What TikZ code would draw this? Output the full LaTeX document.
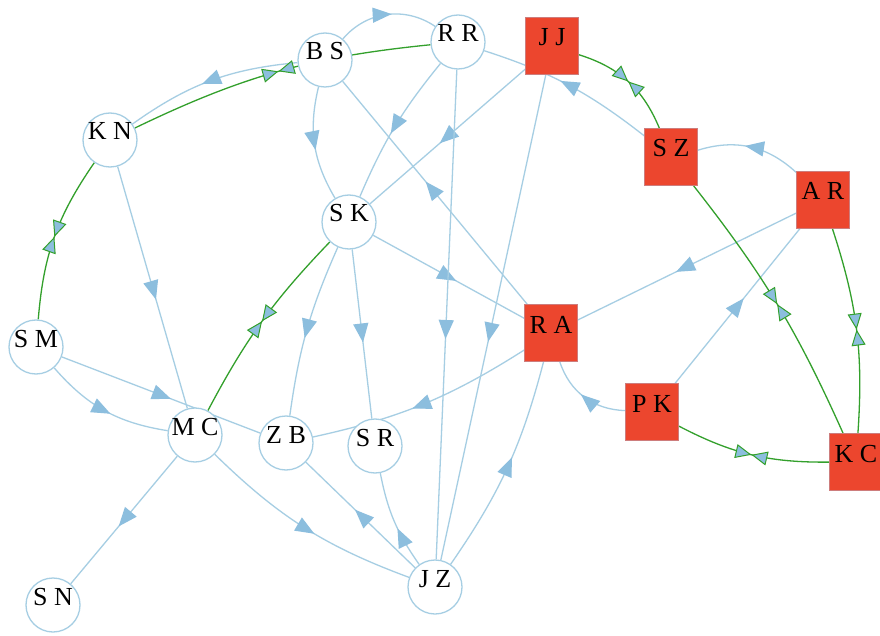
\documentclass[tikz,border=0pt]{standalone}
\usepackage{fontspec}
\setmainfont{Liberation Serif}
\usetikzlibrary{arrows.meta,decorations.markings}
\definecolor{lineblue}{RGB}{166,206,227}
\definecolor{arrowblue}{RGB}{140,190,222}
\definecolor{edgegreen}{RGB}{51,160,44}
\definecolor{sqred}{RGB}{236,70,46}
\definecolor{sqborder}{RGB}{205,125,125}
\pgfdeclarelayer{paper}
\pgfdeclarelayer{edges}
\pgfsetlayers{paper,edges,main}
\newcommand\nodefont{\fontsize{26}{26}\selectfont}
\begin{document}
\begin{tikzpicture}[x=1pt,y=1pt,
  circ/.style={circle, draw=lineblue, fill=white, line width=1.3pt, minimum size=54pt, inner sep=0pt, font=\nodefont, text height=10pt, text depth=10pt},
  sq/.style={rectangle, draw=sqborder, fill=sqred, line width=0.6pt, minimum width=53pt, minimum height=57pt, inner sep=0pt, font=\nodefont, text height=10pt, text depth=10pt},
  bl/.style={draw=lineblue, line width=1.3pt, postaction={decorate}, decoration={markings, mark=at position #1 with {\arrow{Triangle[length=19pt,width=15pt,color=arrowblue]}}}},
  bl/.default=0.55,
  gr/.style={draw=edgegreen, line width=1.3pt, postaction={decorate}, decoration={markings,
    mark=at position 0.5 with {\arrow{Triangle[length=16pt,width=14pt,color=edgegreen,fill=arrowblue,line width=1pt]}},
    mark=at position 0.5 with {\arrowreversed{Triangle[length=16pt,width=14pt,color=edgegreen,fill=arrowblue,line width=1pt]}}}}
]
\begin{pgfonlayer}{paper}
\fill[white] (0,0) rectangle (880,-636);
\end{pgfonlayer}
\useasboundingbox (0,0) rectangle (880,-636);

\node[circ] (bs) at (325,-60) {B S};
\node[circ] (rr) at (458,-42) {R R};
\node[sq] (jj) at (552,-46) {J J};
\node[circ] (kn) at (110,-140) {K N};
\node[circ] (sk) at (349,-222) {S K};
\node[sq] (sz) at (671,-157) {S Z};
\node[sq] (ar) at (823,-200) {A R};
\node[circ] (sm) at (36,-347) {S M};
\node[circ] (mc) at (195,-435) {M C};
\node[circ] (zb) at (286,-443) {Z B};
\node[circ] (sr) at (375,-446) {S R};
\node[circ] (sn) at (53,-605) {S N};
\node[circ] (jz) at (435,-587) {J Z};
\node[sq] (ra) at (551,-333) {R A};
\node[sq] (pk) at (652,-412) {P K};
\node[sq] (kc) at (856,-462) {K C};

\begin{pgfonlayer}{edges}
\draw[bl] (bs) to[bend left=42] (rr);
\draw[bl] (bs) to[bend right=15] (kn);
\draw[bl] (bs) to[bend right=22] (sk);
\draw[bl] (rr) to[bend right=8] (sk);
\draw[bl] (jj) -- (sk);
\draw[bl] (ra) -- (bs);
\draw[bl] (sk) -- (ra);
\draw[bl] (rr) -- (jz);
\draw[bl] (jj) -- (jz);
\draw[bl] (jz) to[bend right=10] (ra);
\draw[bl] (ra) to[bend left=10] (zb);
\draw[bl] (sm) -- (zb);
\draw[bl] (sm) to[bend right=20] (mc);
\draw[bl] (kn) -- (mc);
\draw[bl] (sk) to[bend right=8] (zb);
\draw[bl] (sk) -- (sr);
\draw[bl] (mc) -- (sn);
\draw[bl] (mc) to[bend right=12] (jz);
\draw[bl] (jz) -- (zb);
\draw[bl=0.42] (jz) to[bend left=12] (sr);
\draw[bl] (sz) to[bend right=10] (rr);
\draw[bl] (ar) to[bend right=30] (sz);
\draw[bl] (ar) -- (ra);
\draw[bl] (pk) -- (ar);
\draw[bl] (pk) to[bend left=35] (ra);

\draw[gr] (kn) to[bend left=10] (rr);
\draw[gr] (kn) to[bend right=15] (sm);
\draw[gr] (sk) to[bend right=8] (mc);
\draw[gr] (jj) to[bend left=25] (sz);
\draw[gr] (sz) to[bend left=7] (kc);
\draw[gr] (ar) to[bend left=11] (kc);
\draw[gr] (pk) to[bend right=14] (kc);
\end{pgfonlayer}
\end{tikzpicture}
\end{document}
